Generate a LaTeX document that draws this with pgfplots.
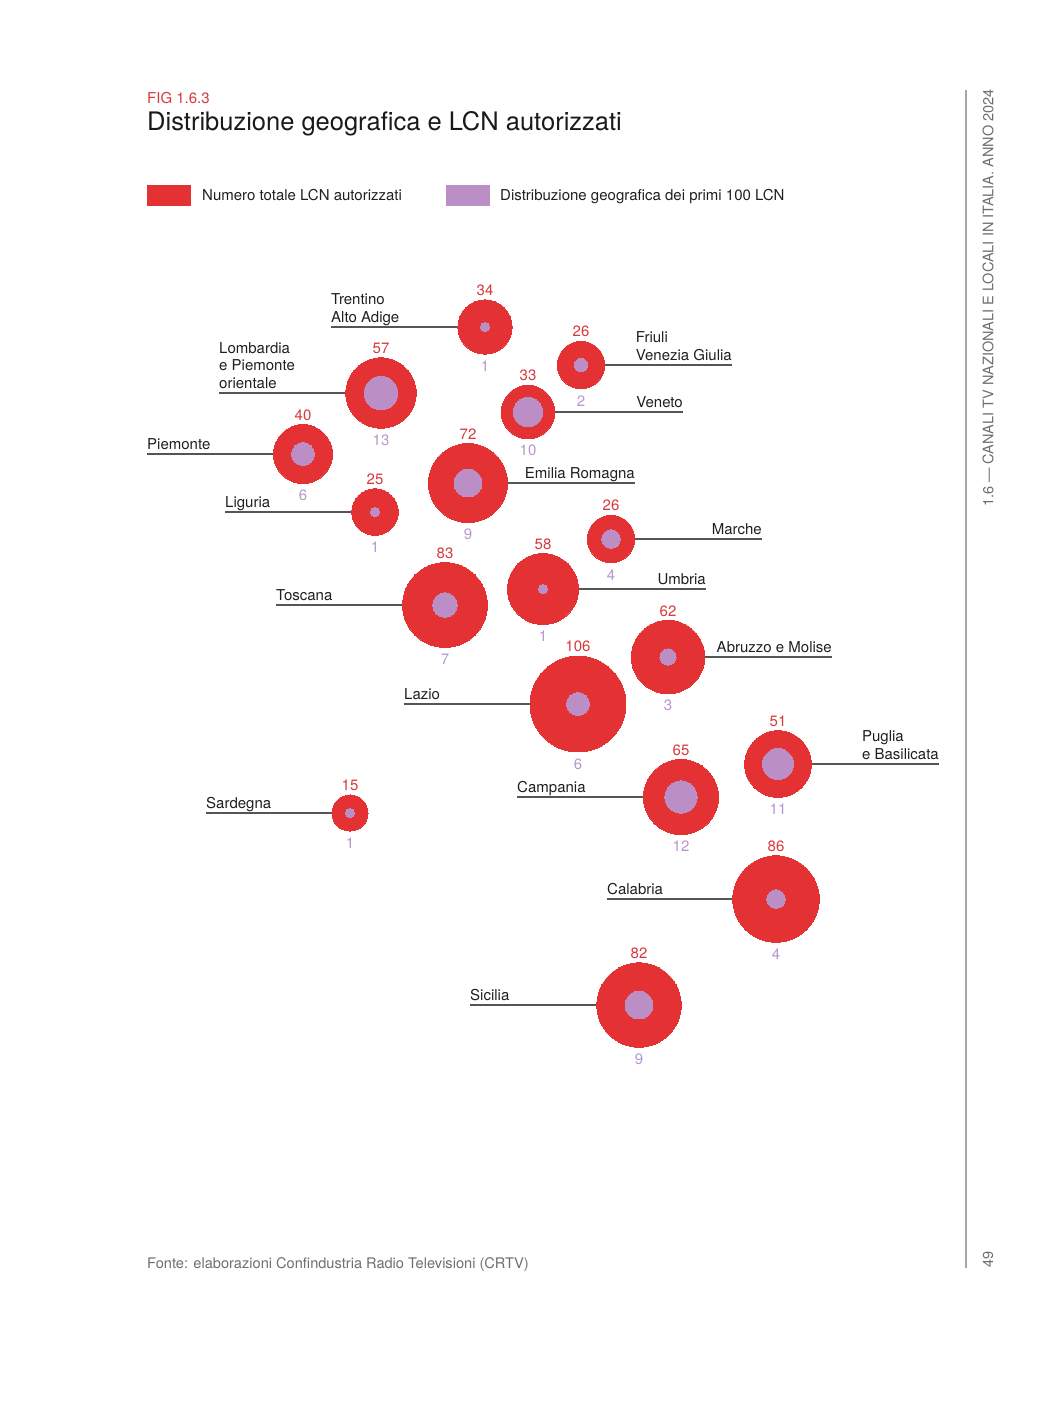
\documentclass[border=0pt]{standalone}
\usepackage{fontspec}
\setmainfont{TeX Gyre Heros}
\usepackage{pgfplots}
\usepackage{pgfplotstable}
\pgfplotsset{compat=1.18}
\definecolor{lcnred}{HTML}{E43234}
\definecolor{lcnpurple}{HTML}{BC8EC6}
\definecolor{numred}{HTML}{D8383C}
\definecolor{numpurple}{HTML}{B896CA}
\definecolor{leadgray}{HTML}{555555}
\definecolor{headgray}{HTML}{6E6E6E}

\pgfplotstableread{
x y tot top
485 327 34 1
581 365 26 2
381 393 57 13
528 412 33 10
303 454 40 6
468 483 72 9
375 512 25 1
611 539 26 4
445 605 83 7
543 589 58 1
668 657 62 3
578 704 106 6
778 764 51 11
681 797 65 12
350 813 15 1
776 899 86 4
639 1005 82 9
}\bubbles

\newcommand\lfont{\fontsize{15}{17.5}\selectfont}
\tikzset{
  leader/.style={draw=leadgray, line width=1.1pt},
  lab/.style={font=\lfont, inner sep=0pt, text depth=0pt, yshift=4.5pt, align=left, text=black!88},
  nr/.style={font=\lfont, text=numred, inner sep=0pt},
  np/.style={font=\lfont, text=numpurple, inner sep=0pt},
}
% x_end, cx, cy, tot, text
\newcommand\leftlab[5]{%
  \draw[leader] (axis cs:#1,#3) -- (axis cs:{#2-4.66*sqrt(#4)},#3);
  \node[lab, anchor=south west] at (axis cs:#1,#3) {#5};}
\newcommand\rightlab[5]{%
  \draw[leader] (axis cs:{#2+4.66*sqrt(#4)},#3) -- (axis cs:#1,#3);
  \node[lab, anchor=south east] at (axis cs:#1,#3) {#5};}
% cx cy tot top
\newcommand\nums[4]{%
  \node[nr] at (axis cs:#1,{#2-4.66*sqrt(#3)-9.5}) {#3};
  \node[np] at (axis cs:#1,{#2+4.66*sqrt(#3)+12}) {#4};}

\begin{document}
\begin{tikzpicture}
\begin{axis}[
  scale only axis, width=1039pt, height=1418pt,
  xmin=0, xmax=1039, ymin=0, ymax=1418, y dir=reverse,
  hide axis, clip=false]
\path (axis cs:0,0) rectangle (axis cs:1039,1418);

% header
\node[anchor=base west, inner sep=0pt, text=numred, font=\fontsize{15}{15}\selectfont] at (axis cs:147,104) {FIG 1.6.3};
\node[anchor=base west, inner sep=0pt, text=black!90, font=\fontsize{25.5}{25.5}\selectfont] at (axis cs:147,131) {Distribuzione geografica e LCN autorizzati};

% legend
\fill[lcnred] (axis cs:147,185) rectangle (axis cs:191,206);
\node[anchor=base west, inner sep=0pt, font=\lfont, text=black!88] at (axis cs:202,200) {Numero totale LCN autorizzati};
\fill[lcnpurple] (axis cs:446,185) rectangle (axis cs:490,206);
\node[anchor=base west, inner sep=0pt, font=\lfont, text=black!88] at (axis cs:500,200) {Distribuzione geografica dei primi 100 LCN};

% side header
\draw[draw=black!35, line width=1.3pt] (axis cs:966,90) -- (axis cs:966,1268);
\node[rotate=90, anchor=west, inner sep=0pt, text=headgray, font=\fontsize{14.5}{14.5}\selectfont] at (axis cs:988,507) {1.6 — CANALI TV NAZIONALI E LOCALI IN ITALIA. ANNO 2024};
\node[rotate=90, inner sep=0pt, text=headgray, font=\fontsize{14.5}{14.5}\selectfont] at (axis cs:988,1259) {49};

% footnote
\node[anchor=base west, inner sep=0pt, text=headgray, font=\fontsize{14.6}{17}\selectfont] at (axis cs:147,1268) {Fonte: elaborazioni Confindustria Radio Televisioni (CRTV)};

% leader lines and labels
\leftlab{331}{485}{327}{34}{Trentino\\Alto Adige}
\rightlab{732}{581}{365}{26}{Friuli\\Venezia Giulia}
\leftlab{219}{381}{393}{57}{Lombardia\\e Piemonte\\orientale}
\rightlab{683}{528}{412}{33}{Veneto}
\leftlab{147}{303}{454}{40}{Piemonte}
\rightlab{635}{468}{483}{72}{Emilia Romagna}
\leftlab{225}{375}{512}{25}{Liguria}
\rightlab{762}{611}{539}{26}{Marche}
\leftlab{276}{445}{605}{83}{Toscana}
\rightlab{706}{543}{589}{58}{Umbria}
\rightlab{832}{668}{657}{62}{Abruzzo e Molise}
\leftlab{404}{578}{704}{106}{Lazio}
\rightlab{939}{778}{764}{51}{Puglia\\e Basilicata}
\leftlab{517}{681}{797}{65}{Campania}
\leftlab{206}{350}{813}{15}{Sardegna}
\leftlab{607}{776}{899}{86}{Calabria}
\leftlab{470}{639}{1005}{82}{Sicilia}

% bubbles
\addplot[only marks, mark=*, scatter, point meta=\thisrow{tot},
  visualization depends on={4.66*sqrt(\thisrow{tot}) \as \rrad},
  scatter/@pre marker code/.code={%
    \pgfsetlinewidth{0pt}\pgfsetstrokecolor{lcnred}\pgfsetfillcolor{lcnred}%
    \pgfsetplotmarksize{\rrad pt}},
  scatter/@post marker code/.code={}]
  table[x=x, y=y] {\bubbles};
\addplot[only marks, mark=*, scatter, point meta=\thisrow{top},
  visualization depends on={4.66*sqrt(\thisrow{top}) \as \rrad},
  scatter/@pre marker code/.code={%
    \pgfsetlinewidth{0pt}\pgfsetstrokecolor{lcnpurple}\pgfsetfillcolor{lcnpurple}%
    \pgfsetplotmarksize{\rrad pt}},
  scatter/@post marker code/.code={}]
  table[x=x, y=y] {\bubbles};

% numbers
\nums{485}{327}{34}{1}
\nums{581}{365}{26}{2}
\nums{381}{393}{57}{13}
\nums{528}{412}{33}{10}
\nums{303}{454}{40}{6}
\nums{468}{483}{72}{9}
\nums{375}{512}{25}{1}
\nums{611}{539}{26}{4}
\nums{445}{605}{83}{7}
\nums{543}{589}{58}{1}
\nums{668}{657}{62}{3}
\nums{578}{704}{106}{6}
\nums{778}{764}{51}{11}
\nums{681}{797}{65}{12}
\nums{350}{813}{15}{1}
\nums{776}{899}{86}{4}
\nums{639}{1005}{82}{9}
\end{axis}
\end{tikzpicture}
\end{document}
